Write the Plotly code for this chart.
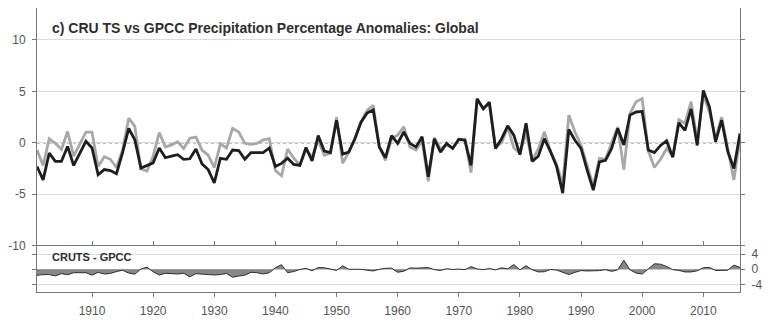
import plotly.graph_objects as go

years = list(range(1901, 2017))

cru_ts = [
    -2.3, -3.6, -1.0, -1.8, -1.8, -0.35, -2.2, -1.0, 0.15, -0.5,
    -3.1, -2.6, -2.7, -3.0, -0.95, 1.4, 0.3, -2.45, -2.2, -1.95,
    -0.5, -1.45, -1.3, -1.15, -1.6, -1.55, -0.6, -2.05, -2.6, -3.9,
    -1.5, -1.6, -0.7, -0.75, -1.6, -0.95, -0.95, -0.95, -0.5, -2.3,
    -2.0, -1.5, -2.1, -2.2, -0.45, -1.75, 0.7, -0.8, -0.95, 2.2,
    -1.1, -0.9, 0.4, 2.0, 2.9, 3.2, -0.4, -1.45, 0.7, -0.05,
    1.05, -0.05, -0.4, 0.6, -3.3, 0.4, -0.9, -0.05, -0.55, 0.35,
    0.25, -2.2, 4.3, 3.3, 3.95, -0.55, 0.4, 1.65, 0.75, -1.15,
    1.9, -1.8, -1.3, 0.4, -0.85, -2.3, -4.9, 1.3, 0.25, -0.55,
    -2.65, -4.6, -1.85, -1.7, -0.55, 1.4, -0.2, 2.7, 3.0, 3.05,
    -0.7, -0.95, -0.25, 0.2, -1.4, 1.95, 1.2, 3.3, -0.25, 5.1,
    3.5, 0.1, 2.2, -0.85, -2.5, 0.9,
]

gpcc = [
    -0.7, -2.2, 0.4, -0.05, -0.65, 1.1, -1.3, -0.05, 1.05, 1.05,
    -2.3, -1.35, -1.6, -2.4, -0.7, 2.4, 1.6, -2.55, -2.75, -1.3,
    1.0, -0.4, -0.2, 0.1, -0.55, 0.45, 0.55, -0.7, -1.2, -2.4,
    -0.1, -0.5, 1.4, 1.05, -0.05, -0.15, -0.05, 0.3, 0.4, -2.7,
    -3.2, -0.6, -1.5, -2.15, -0.7, -1.35, 0.25, -1.2, -1.0, 2.5,
    -2.0, -0.9, 0.4, 2.0, 3.15, 3.65, -0.4, -1.7, 0.4, 0.75,
    1.55, -0.4, -0.7, 0.2, -3.75, 0.5, -0.6, -0.2, -0.5, 0.3,
    0.35, -2.9, 4.2, 3.4, 3.75, -0.4, 0.0, 1.55, -0.5, -1.0,
    0.95, -1.7, -0.6, 1.05, -0.8, -2.1, -4.0, 2.7, 1.05, -0.2,
    -2.2, -4.2, -1.5, -1.6, 0.0, 1.55, -2.6, 2.85, 4.0, 4.3,
    -0.8, -2.4, -1.6, -0.55, -1.3, 2.25, 1.9, 4.0, 0.15, 4.7,
    3.0, 0.4, 2.5, -0.6, -3.6, 0.4,
]

# CRUTS - GPCC difference (plotted quantity)
diff = [round(c - g, 2) for c, g in zip(cru_ts, gpcc)]

x_ticks = [1910, 1920, 1930, 1940, 1950, 1960, 1970, 1980, 1990, 2000, 2010]
upper_ticks = [-10, -5, 0, 5, 10]
upper_labels = ["-10", "-5", "0", "5", "10"]
lower_ticks = [-4, 0, 4]
lower_labels = ["-4", "0", "4"]

title_text = "c) CRU TS vs GPCC Precipitation Percentage Anomalies: Global"
diff_label = "CRUTS - GPCC"

FRAME = "#777777"
GRID = "#dcdcdc"
TXT = "#555555"
FONT = "Liberation Sans, Arial, sans-serif"
XR = [1901, 2016]

fig = go.Figure()
fig.add_trace(go.Scatter(x=years, y=gpcc, mode="lines", name="GPCC",
                         line=dict(color="#a8a8a8", width=2.8), xaxis="x", yaxis="y"))
fig.add_trace(go.Scatter(x=years, y=cru_ts, mode="lines", name="CRU TS",
                         line=dict(color="#1e1e1e", width=2.8), xaxis="x", yaxis="y"))
fig.add_trace(go.Scatter(x=years, y=diff, mode="lines", name="CRUTS - GPCC",
                         fill="tozeroy", fillcolor="#878787",
                         line=dict(color="#2e2e2e", width=1), xaxis="x", yaxis="y2"))

base_x = dict(range=XR, tickvals=x_ticks, showgrid=False, zeroline=False,
              linecolor=FRAME, tickcolor=FRAME, linewidth=1)

fig.update_layout(
    width=770, height=335,
    margin=dict(l=33, r=28, t=8, b=43),
    paper_bgcolor="white", plot_bgcolor="white",
    showlegend=False,
    font=dict(family=FONT, size=12, color=TXT),
    xaxis=dict(**base_x, anchor="y2", showline=True, mirror="ticks", ticks="outside",
               ticklen=4, showticklabels=True, ticklabelstandoff=4,
               tickfont=dict(size=12, color=TXT)),
    xaxis2=dict(**base_x, overlaying="x", anchor="y", showline=True, mirror="ticks",
                ticks="outside", ticklen=4, showticklabels=False),
    xaxis3=dict(**base_x, overlaying="x", anchor="y2", showline=False, mirror="ticks",
                ticks="inside", ticklen=3, showticklabels=False),
    xaxis4=dict(**base_x, overlaying="x", anchor="y", showline=False, mirror="ticks",
                ticks="inside", ticklen=3, showticklabels=False),
    yaxis=dict(domain=[0.162, 1], range=[-10.03, 13.11], tickvals=upper_ticks,
               ticktext=upper_labels, showgrid=True, gridcolor=GRID, gridwidth=1,
               zeroline=False, showline=True, mirror="ticks", linecolor=FRAME,
               ticks="outside", ticklen=4, tickcolor=FRAME, ticklabelstandoff=4,
               tickfont=dict(size=12, color=TXT)),
    yaxis2=dict(domain=[0, 0.162], range=[-6, 6.15], tickvals=lower_ticks,
                ticktext=lower_labels, side="right", showgrid=True, gridcolor=GRID,
                zeroline=False, showline=True, mirror="ticks", linecolor=FRAME,
                ticks="outside", ticklen=4, tickcolor=FRAME, ticklabelstandoff=4,
                tickfont=dict(size=12, color=TXT)),
    shapes=[dict(type="line", xref="x domain", yref="y", x0=0, x1=1, y0=0, y1=0,
                 line=dict(color="#444444", width=1, dash="dot"), layer="below")],
    annotations=[
        dict(text="<b>" + title_text + "</b>", xref="paper", yref="paper",
             x=0.019, y=0.9296, xanchor="left", yanchor="middle", showarrow=False,
             font=dict(size=14, color="#2e2e2e", family=FONT)),
        dict(text="<b>" + diff_label + "</b>", xref="paper", yref="paper",
             x=0.019, y=0.123, xanchor="left", yanchor="middle", showarrow=False,
             font=dict(size=11, color="#2e2e2e", family=FONT)),
    ],
)

fig.write_html("out.html")
